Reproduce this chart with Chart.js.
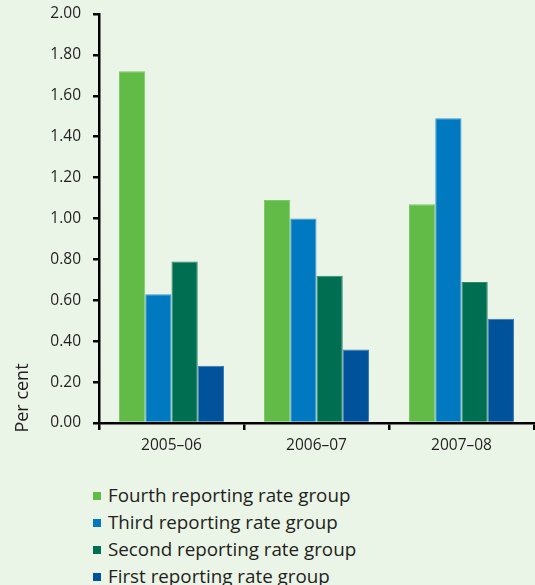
<!DOCTYPE html>
<html>
<head>
<meta charset="utf-8">
<script src="https://cdn.jsdelivr.net/npm/chart.js"></script>
<style>
  body { margin: 0; background: #eaf4e7; font-family: "Open Sans", sans-serif; }
  #wrap { position: relative; width: 535px; height: 465px; }
  #legend { list-style: none; margin: 17px 0 0 0; padding: 0 0 0 93px; }
  #legend li { height: 27px; line-height: 27px; font-size: 18.8px; color: #231f20; white-space: nowrap; }
  #legend span.box { display: inline-block; width: 8px; height: 8px; margin-right: 7px; vertical-align: middle; position: relative; top: -1px; }
</style>
</head>
<body>
<div id="wrap"><canvas id="chart"></canvas></div>
<ul id="legend"></ul>
<script>
  const years = ['2005\u201306', '2006\u201307', '2007\u201308']
  const fourthGroup = [1.72, 1.09, 1.07]
  const thirdGroup = [0.63, 1.00, 1.49]
  const secondGroup = [0.79, 0.72, 0.69]
  const firstGroup = [0.28, 0.36, 0.51]
  const yTicks = [0, 0.2, 0.4, 0.6, 0.8, 1.0, 1.2, 1.4, 1.6, 1.8, 2.0]

  const ink = '#231f20'

  // rotated axis title sitting low on the left
  const yTitle = {
    id: 'yTitle',
    afterDraw(chart) {
      const { ctx, chartArea } = chart
      ctx.save()
      ctx.translate(23, chartArea.bottom - 25)
      ctx.rotate(-Math.PI / 2)
      ctx.textAlign = 'center'
      ctx.textBaseline = 'middle'
      ctx.font = '18px "Open Sans"'
      ctx.fillStyle = ink
      ctx.fillText('Per cent', 0, 0)
      ctx.restore()
    }
  }

  const bar = (label, data, color, edge) => ({
    label, data,
    backgroundColor: color,
    borderColor: edge,
    borderWidth: 1,
    barPercentage: 1,
    categoryPercentage: 0.724
  })

  const chart = new Chart(document.getElementById('chart'), {
    type: 'bar',
    data: {
      labels: years,
      datasets: [
        bar('Fourth reporting rate group', fourthGroup, '#62bb46', '#7dc866'),
        bar('Third reporting rate group', thirdGroup, '#0079c1', '#3d98cf'),
        bar('Second reporting rate group', secondGroup, '#006f51', '#2f8a70'),
        bar('First reporting rate group', firstGroup, '#00529b', '#3a7ab4')
      ]
    },
    options: {
      responsive: true,
      maintainAspectRatio: false,
      animation: false,
      layout: { padding: { top: 14, right: 1, left: 0, bottom: 0 } },
      plugins: {
        legend: { display: false },
        tooltip: { enabled: false }
      },
      scales: {
        x: {
          offset: true,
          grid: { offset: true, drawOnChartArea: false, tickLength: 7, color: '#000', lineWidth: 2.5 },
          border: { color: '#000', width: 2.5 },
          ticks: { color: ink, font: { family: 'Open Sans', size: 15.5 }, padding: 6 },
          afterFit: s => { s.height = 42 }
        },
        y: {
          min: 0,
          max: 2,
          afterBuildTicks: s => { s.ticks = yTicks.map(v => ({ value: v })) },
          grid: { drawOnChartArea: false, tickLength: 6, color: '#000', lineWidth: 2.5 },
          border: { color: '#000', width: 2.5 },
          ticks: {
            color: ink,
            font: { family: 'Open Sans', size: 15.5 },
            padding: 12,
            callback: v => v.toFixed(2)
          },
          afterFit: s => {
            s.width = 99
            s.paddingTop = 0
            s.paddingBottom = 0
          }
        }
      }
    },
    plugins: [yTitle]
  })

  // vertical legend list built from the chart's own legend items
  const list = document.getElementById('legend')
  chart.options.plugins.legend.labels.generateLabels(chart).forEach(item => {
    const li = document.createElement('li')
    const box = document.createElement('span')
    box.className = 'box'
    box.style.background = item.fillStyle
    li.appendChild(box)
    li.appendChild(document.createTextNode(item.text))
    list.appendChild(li)
  })
</script>
</body>
</html>
